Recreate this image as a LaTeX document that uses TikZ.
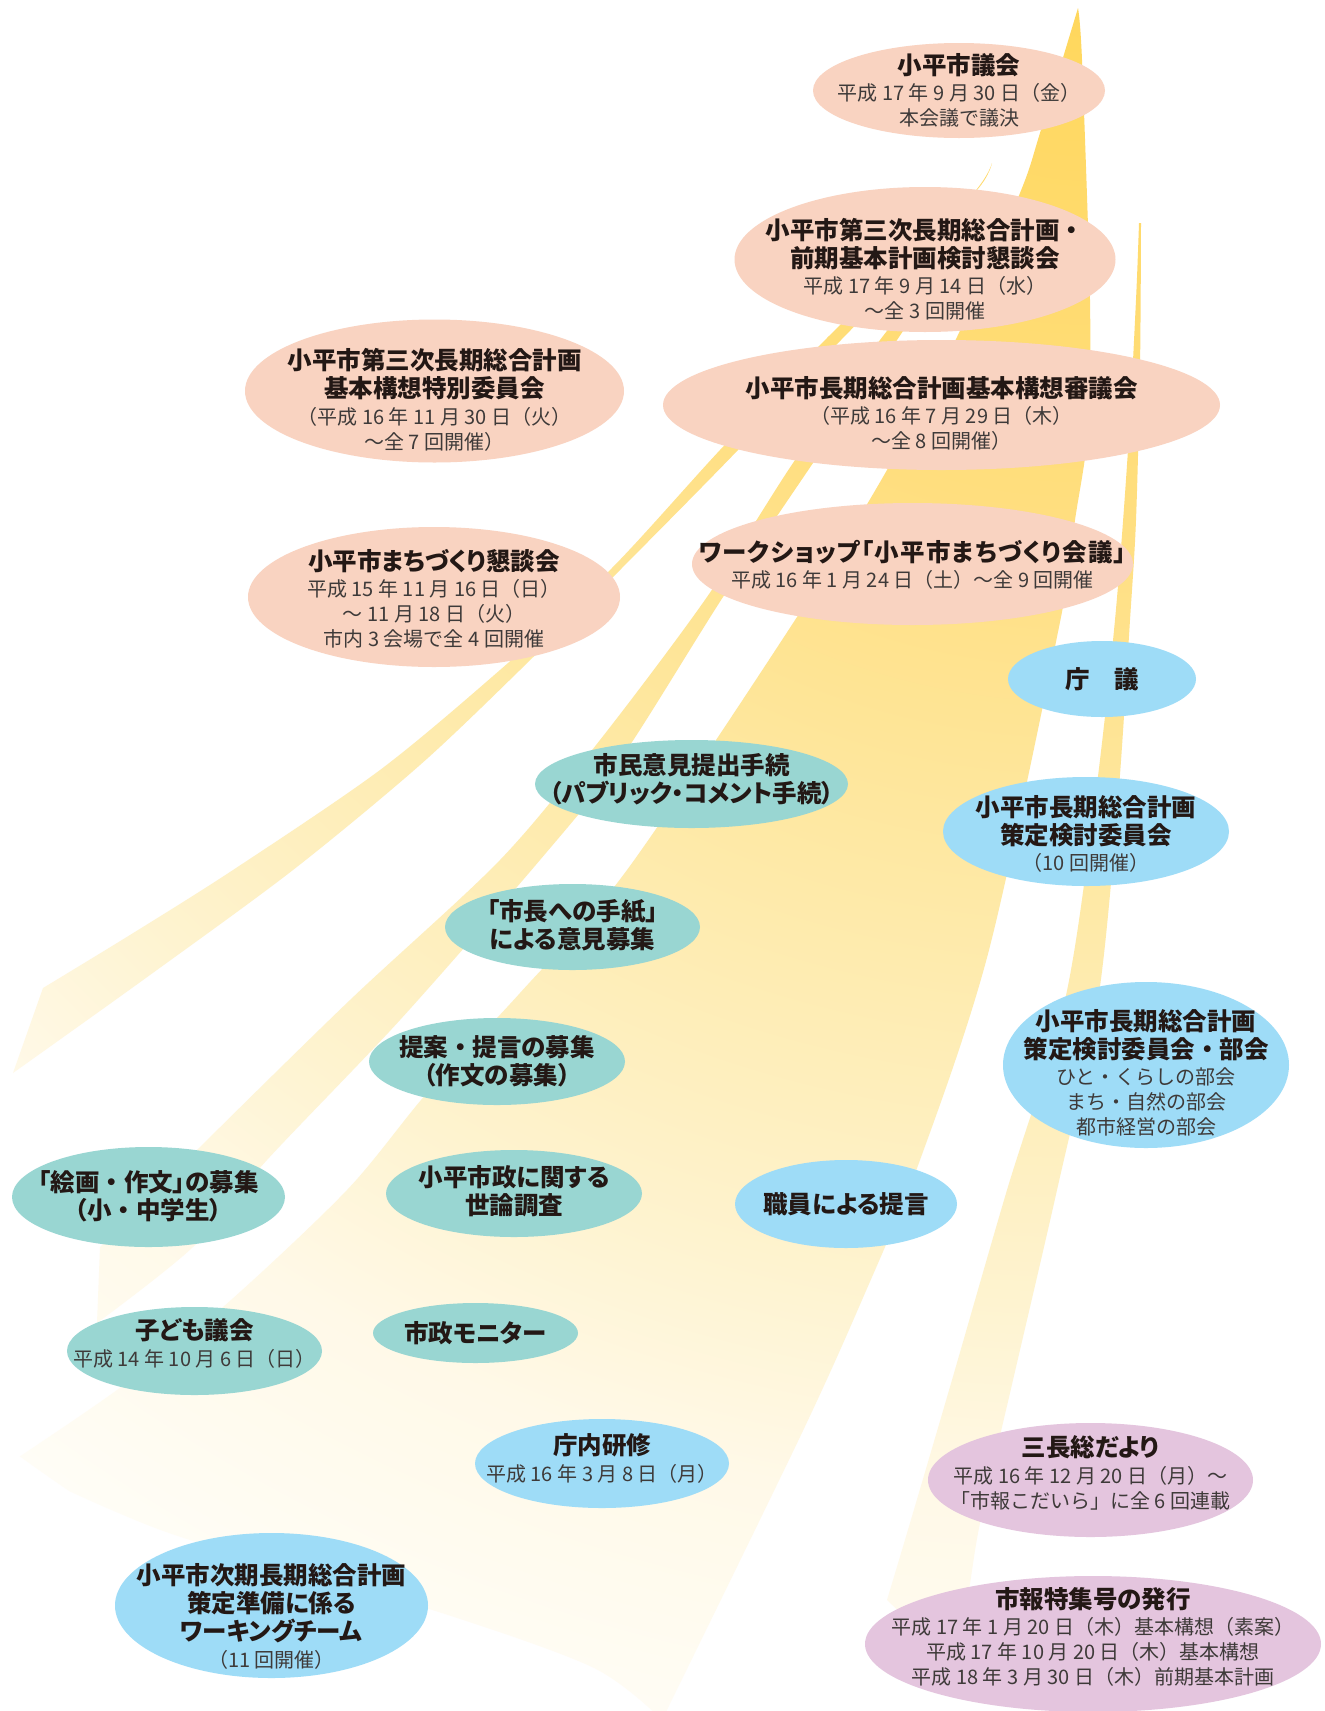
\documentclass[tikz,border=0pt]{standalone}
\usepackage{fontspec}
\setmainfont{Noto Sans CJK JP}
\newfontfamily\tfam{Noto Sans CJK JP}[RawFeature=+palt]
\newfontfamily\tfamn{Noto Sans CJK JP}
\usetikzlibrary{shapes.geometric}
\definecolor{pinkc}{HTML}{F9D3C1}
\definecolor{tealc}{HTML}{99D6D2}
\definecolor{bluec}{HTML}{9EDCF7}
\definecolor{purpc}{HTML}{E4C5DE}
\definecolor{txt}{HTML}{231815}
\definecolor{txt2}{HTML}{3E3A39}
\definecolor{bm0}{HTML}{FFD75C}
\definecolor{bm1}{HTML}{FFDE7E}
\definecolor{bm2}{HTML}{FEE9A6}
\definecolor{bm3}{HTML}{FEF3CF}
\definecolor{bm4}{HTML}{FFF9E8}
\definecolor{bm5}{HTML}{FFFDF6}
\pgfdeclareradialshading{beamshade}{\pgfpoint{0bp}{0bp}}{color(0bp)=(bm0); color(7bp)=(bm1); color(12.5bp)=(bm2); color(18bp)=(bm3); color(21bp)=(bm4); color(25bp)=(bm5); color(50bp)=(bm5)}
\newcommand{\TL}[1]{{\tfam\bfseries\fontsize{24.5}{25}\selectfont\color{txt}#1}}
\newcommand{\D}{{\tfamn ・}}
\newcommand{\bub}[8]{%
  \node[#2, minimum width=#5pt, minimum height=#6pt] (#1) at (#3,#4) {};
  \node[btxt] (#1-t) at (#3,#7) {#8};}
\begin{document}
\begin{tikzpicture}[x=1pt,y=-1pt,
  shp/.style={ellipse, inner sep=0pt, draw=none},
  pk/.style={shp, fill=pinkc}, tl/.style={shp, fill=tealc},
  bl/.style={shp, fill=bluec}, pu/.style={shp, fill=purpc},
  btxt/.style={inner sep=0pt, align=center, text=txt2, font=\fontsize{20}{25}\selectfont}]
\useasboundingbox (0,0) rectangle (1325,1711);
\fill[white] (0,0) rectangle (1325,1711);
% light beams
\begin{scope}
\clip
 plot[smooth, tension=0.5] coordinates {(1078,8) (1040,133) (1020,193) (957,337) (887,470) (797,617) (627,870) (520,993) (427,1093) (347,1190) (223,1307) (117,1390) (10,1463)}
 -- plot[smooth, tension=0.5] coordinates {(10,1463) (169,1533) (423,1607) (592,1667) (662,1720)}
 -- plot[smooth, tension=0.5] coordinates {(662,1720) (800,1437) (862,1300) (920,1160) (989,950) (1061,617) (1075,520) (1088,430) (1090,300) (1082,60) (1078,8)} -- cycle
 plot[smooth, tension=0.5] coordinates {(992,163) (977,190) (900,268) (825,340) (720,450) (610,570) (500,670) (380,770) (233,870) (130,935) (43,988)}
 -- (13,1073)
 -- plot[smooth, tension=0.5] coordinates {(13,1073) (150,975) (293,870) (420,765) (520,670) (620,570) (738,450) (841,340) (920,260) (980,185) (992,163)} -- cycle
 plot[smooth, tension=0.5] coordinates {(975,222) (880,340) (793,463) (707,597) (600,740) (500,860) (350,1000) (200,1147) (100,1247)}
 -- (97,1323)
 -- plot[smooth, tension=0.5] coordinates {(97,1323) (193,1247) (267,1160) (400,1020) (540,860) (620,760) (723,597) (813,463) (897,340) (975,222)} -- cycle
 plot[smooth, tension=0.5] coordinates {(1139,223) (1136,300) (1128,450) (1115,620) (1095,800) (1065,1000) (1007,1190) (952,1380) (910,1523) (887,1600)}
 -- (950,1660)
 -- plot[smooth, tension=0.5] coordinates {(950,1660) (967,1600) (980,1523) (1013,1380) (1057,1190) (1098,1000) (1118,800) (1130,620) (1136,520) (1140,367) (1141,223)} -- cycle;
\shade[shading=beamshade] (1078,0) circle (1800);
\end{scope}
% bubbles
\bub{gikai}{pk}{959}{90.5}{292}{95}{90.5}{\TL{小平市議会}\\[1.5pt]平成 17 年 9 月 30 日（金）\\本会議で議決}
\bub{kondan3}{pk}{925}{259.5}{381}{145}{269}{\TL{小平市第三次長期総合計画\D}\\[3pt]\TL{前期基本計画検討懇談会}\\[1.5pt]平成 17 年 9 月 14 日（水）\\～全 3 回開催}
\bub{tokubetsu}{pk}{434.5}{391}{379}{143}{400}{\TL{小平市第三次長期総合計画}\\[3pt]\TL{基本構想特別委員会}\\[1.5pt]（平成 16 年 11 月 30 日（火）\\～全 7 回開催）}
\bub{shingikai}{pk}{941.5}{405}{557}{130}{413.5}{\TL{小平市長期総合計画基本構想審議会}\\[1.5pt]（平成 16 年 7 月 29 日（木）\\～全 8 回開催）}
\bub{machikon}{pk}{434}{597}{372}{140}{599}{\TL{小平市まちづくり懇談会}\\[1.5pt]平成 15 年 11 月 16 日（日）\\～ 11 月 18 日（火）\\市内 3 会場で全 4 回開催}
\bub{workshop}{pk}{912.5}{564}{441}{122}{565}{\TL{\addfontfeature{LetterSpace=5}ワークショップ「小平市まちづくり会議」}\\[1.5pt]平成 16 年 1 月 24 日（土）～全 9 回開催}
\bub{chogi}{bl}{1102}{679}{188}{76}{679}{\TL{庁　議}}
\bub{pubcom}{tl}{691.5}{784}{313}{88}{779.5}{\TL{市民意見提出手続}\\[3pt]\TL{（パブリック・コメント手続）}}
\bub{iinkai}{bl}{1086}{831.5}{286}{109}{834}{\TL{小平市長期総合計画}\\[3pt]\TL{策定検討委員会}\\[1.5pt]（10 回開催）}
\bub{tegami}{tl}{572.5}{927}{255}{86}{925.5}{\TL{「市長への手紙」}\\[3pt]\TL{による意見募集}}
\bub{teian}{tl}{497}{1061.5}{256}{87}{1061}{\TL{提案\D 提言の募集}\\[3pt]\TL{（作文の募集）}}
\bub{bukai}{bl}{1146}{1065}{286}{166}{1073}{\TL{小平市長期総合計画}\\[3pt]\TL{策定検討委員会\D 部会}\\[1.5pt]ひと・くらしの部会\\まち・自然の部会\\都市経営の部会}
\bub{kaiga}{tl}{148.5}{1197}{273}{100}{1196.5}{\TL{「絵画\D 作文」の募集}\\[3pt]\TL{（小\D 中学生）}}
\bub{yoron}{tl}{514}{1193.5}{256}{87}{1191.5}{\TL{小平市政に関する}\\[3pt]\TL{世論調査}}
\bub{shokuin}{bl}{846}{1204}{222}{88}{1204}{\TL{職員による提言}}
\bub{kodomo}{tl}{194.5}{1351}{255}{88}{1343.5}{\TL{子ども議会}\\[1.5pt]平成 14 年 10 月 6 日（日）}
\bub{monitor}{tl}{475.5}{1333}{205}{60}{1333}{\TL{市政モニター}}
\bub{kenshu}{bl}{602}{1463.5}{254}{89}{1458.5}{\TL{庁内研修}\\[1.5pt]平成 16 年 3 月 8 日（月）}
\bub{dayori}{pu}{1090.5}{1480}{325}{114}{1473}{\TL{三長総だより}\\[1.5pt]平成 16 年 12 月 20 日（月）～\\「市報こだいら」に全 6 回連載}
\bub{wt}{bl}{271.5}{1605.5}{313}{145}{1616.5}{\TL{小平市次期長期総合計画}\\[3pt]\TL{策定準備に係る}\\[3pt]\TL{ワーキングチーム}\\[1.5pt]（11 回開催）}
\bub{shiho}{pu}{1093}{1644}{456}{136}{1637}{\TL{市報特集号の発行}\\[1.5pt]平成 17 年 1 月 20 日（木）基本構想（素案）\\平成 17 年 10 月 20 日（木）基本構想\\平成 18 年 3 月 30 日（木）前期基本計画}
\end{tikzpicture}
\end{document}
